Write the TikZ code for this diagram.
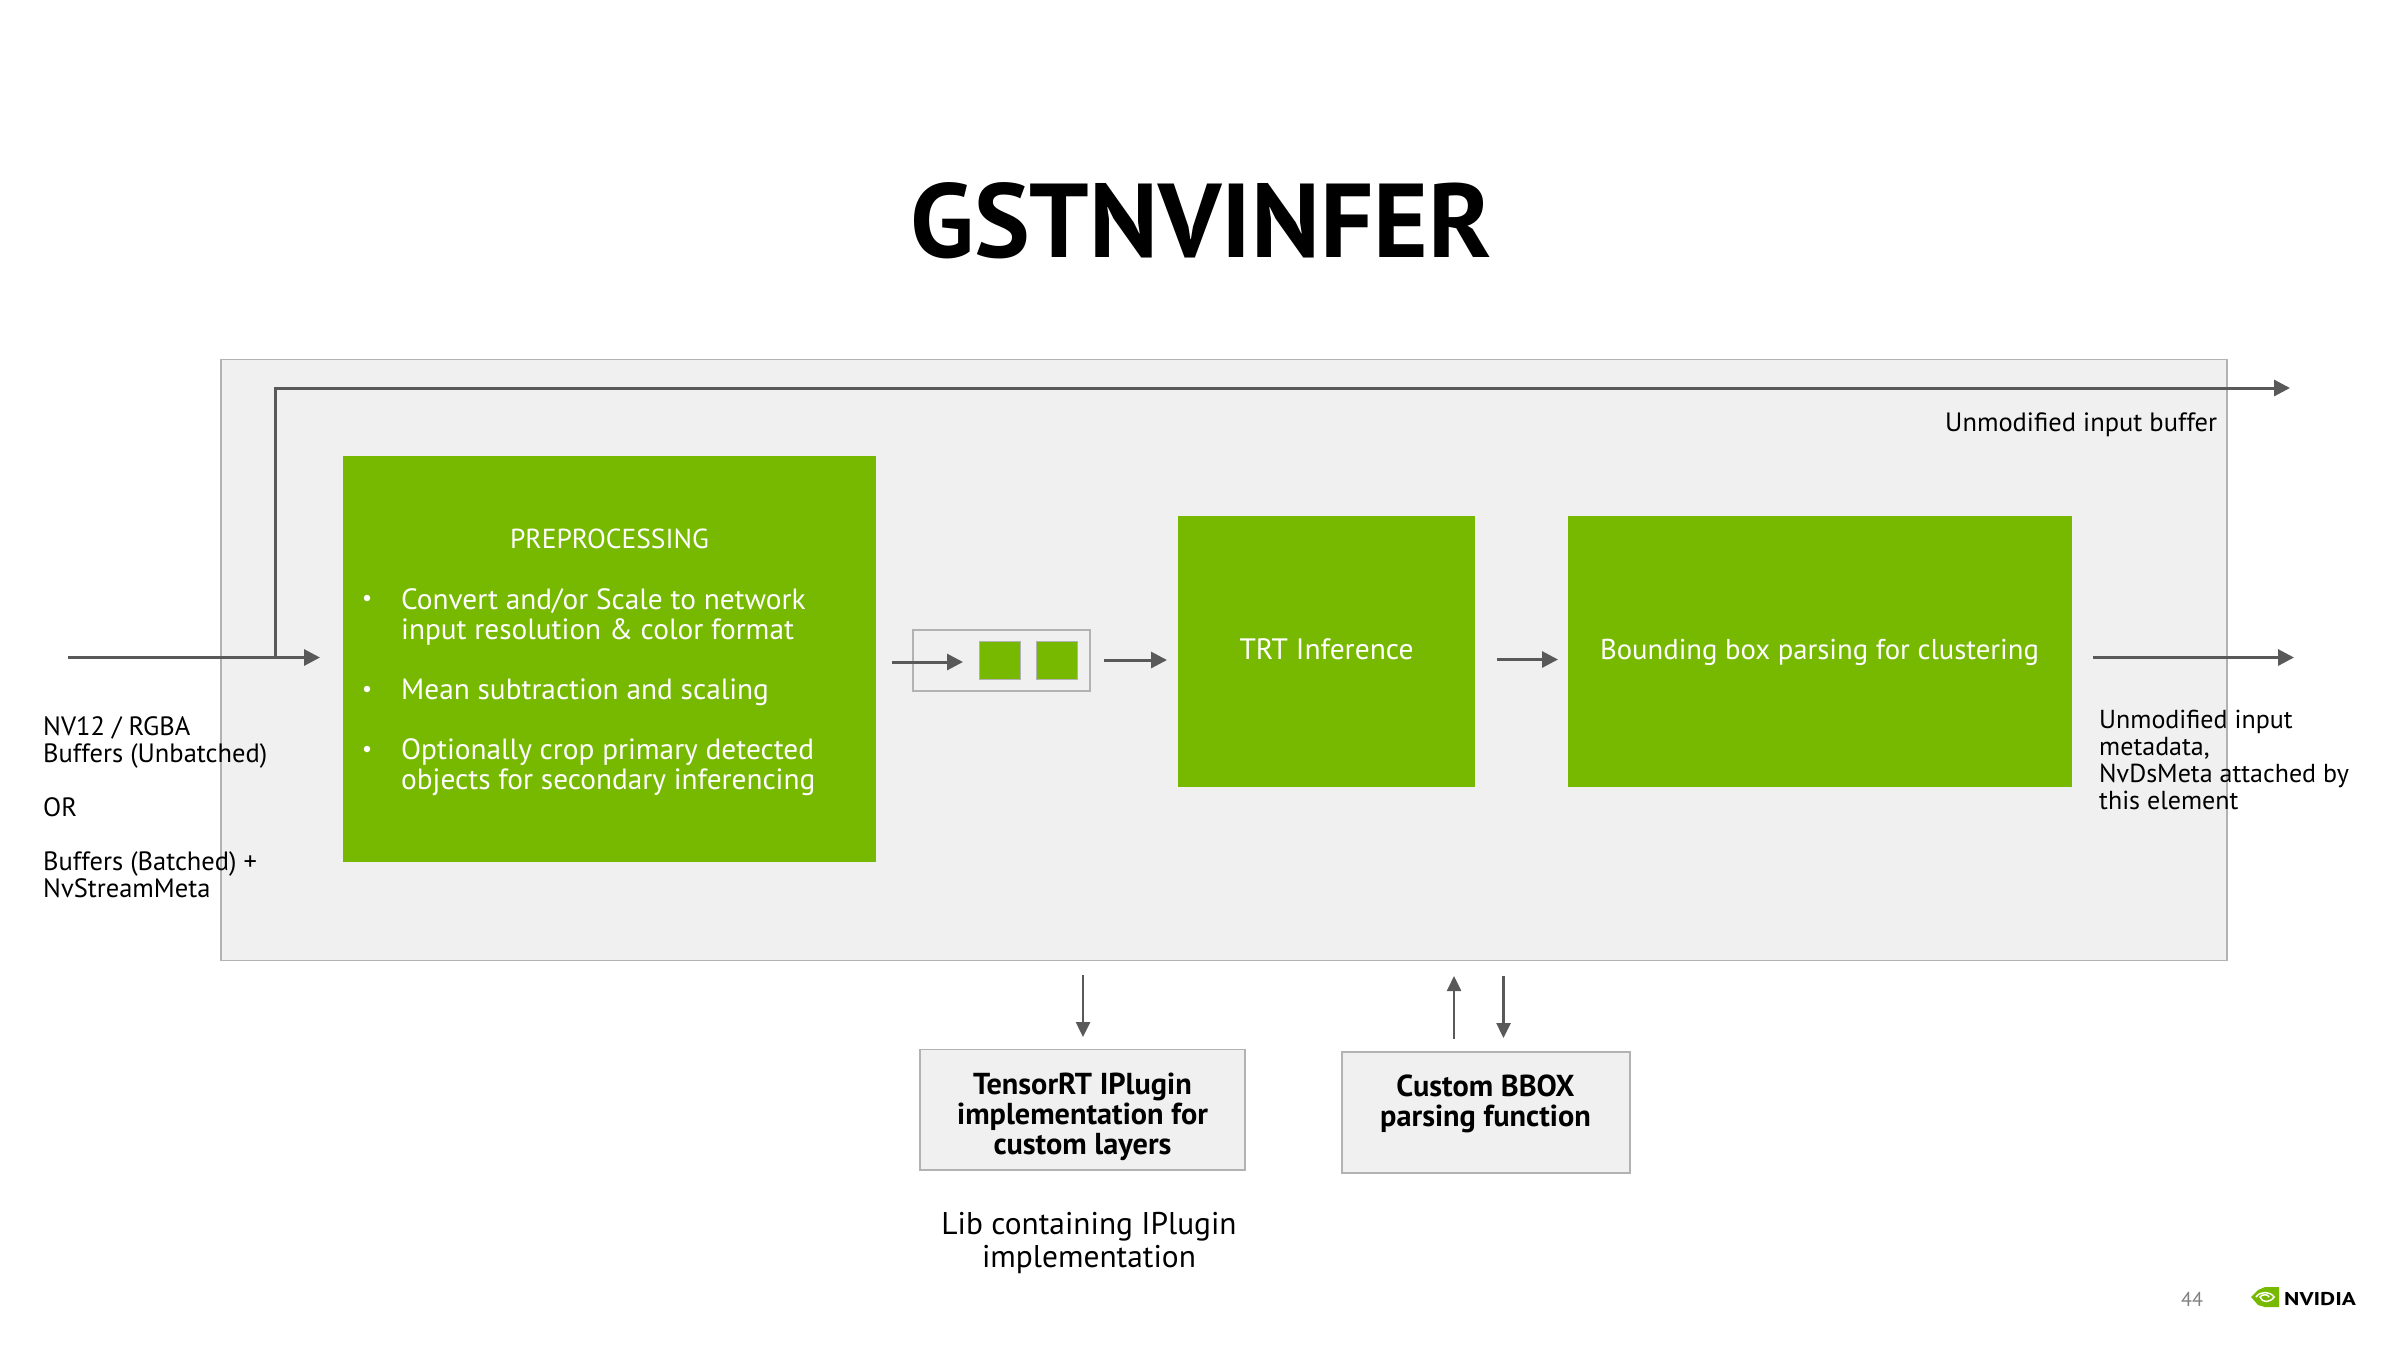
\documentclass[tikz,border=0pt]{standalone}
\usepackage{fontspec}
\setmainfont{PT Sans}
\usetikzlibrary{arrows.meta}
\definecolor{nvgreen}{HTML}{76B900}
\definecolor{panel}{HTML}{F0F0F0}
\definecolor{edge}{HTML}{B2B2B2}
\definecolor{arrowc}{HTML}{595959}
\newcommand{\fs}[2]{\fontsize{#1}{#2}\selectfont}
\tikzset{
  x=1pt,y=-1pt,
  box/.style={anchor=north west,inner sep=0pt,outer sep=0pt},
  greenbox/.style={box,fill=nvgreen},
  greybox/.style={box,fill=panel,draw=edge,line width=1.5pt},
  flow/.style={draw=arrowc,line width=3pt,-{Triangle[length=16pt,width=16pt]}},
  thin flow/.style={draw=arrowc,line width=2.5pt,-{Triangle[length=15pt,width=14pt]}},
  wtxt/.style={text=white,inner sep=0pt,anchor=base,font=\fs{29}{30}},
  btxt/.style={text=black,inner sep=0pt,anchor=base west,align=left,font=\fs{26.5}{27}},
  rtxt/.style={text=black,inner sep=0pt,anchor=base west,align=left,font=\fs{26}{27}},
  bul/.style={text=white,inner sep=0pt,anchor=base west,align=left,font=\fs{29.3}{30}},
  dot/.style={circle,fill=white,inner sep=0pt,minimum size=6.5pt},
}
\begin{document}
\begin{tikzpicture}
\useasboundingbox (0,0) rectangle (2400,1350);
\fill[white] (0,0) rectangle (2400,1350);
% title
\node[inner sep=0pt,anchor=base] (title) at (1201,257) {\fs{105}{110}\bfseries GSTNVINFER};
% panel
\node[greybox,minimum width=2006pt,minimum height=601pt] (panel) at (221,359.5) {};
% green boxes
\node[greenbox,minimum width=533pt,minimum height=406pt] (pre) at (343,456) {};
\node[greenbox,minimum width=297pt,minimum height=271pt] (trt) at (1178,516) {};
\node[greenbox,minimum width=504pt,minimum height=271pt] (bbox) at (1568,516) {};
% preprocessing text
\node[wtxt,font=\fs{27.5}{30}] (pretitle) at (609.5,548) {PREPROCESSING};
\node[dot] (d1) at (367,598) {};
\node[dot] (d2) at (367,689) {};
\node[dot] (d3) at (367,749) {};
\node[bul] (b1) at (401,639) {Convert and/or Scale to network\\input resolution \& color format};
\node[bul] (b2) at (401,699) {Mean subtraction and scaling};
\node[bul] (b3) at (401,789) {Optionally crop primary detected\\objects for secondary inferencing};
\node[wtxt,font=\fs{29.5}{30}] (trttxt) at (1326.5,659.5) {TRT Inference};
\node[wtxt,font=\fs{28.7}{30}] (bbtxt) at (1819.5,659.5) {Bounding box parsing for clustering};
% queue
\node[box,draw=edge,line width=1.5pt,minimum width=177pt,minimum height=61pt] (queue) at (913,630) {};
\node[greenbox,draw=edge,line width=1pt,minimum width=41pt,minimum height=38pt] (q1) at (979,641) {};
\node[greenbox,draw=edge,line width=1pt,minimum width=41pt,minimum height=38pt] (q2) at (1036,641) {};
% external labels
\node[btxt] (inlabel) at (43,897) {NV12 / RGBA\\Buffers (Unbatched)\\[27pt]OR\\[27pt]Buffers (Batched) +\\NvStreamMeta};
\node[rtxt,font=\fs{26.5}{27}] (outbuf) at (1945,431) {Unmodified input buffer};
\node[rtxt] (outmeta) at (2099,809.5) {Unmodified input\\metadata,\\NvDsMeta attached by\\this element};
% coordinates
\coordinate (inS) at (68,657.5);
\coordinate (inE) at (320,657.5);
\coordinate (brA) at (275.5,657.5);
\coordinate (brB) at (275.5,388);
\coordinate (brC) at (2290,388);
\coordinate (qS) at (892,662);
\coordinate (qE) at (963,662);
\coordinate (qoS) at (1104,660);
\coordinate (qoE) at (1167,660);
\coordinate (tS) at (1497,659.5);
\coordinate (tE) at (1558,659.5);
\coordinate (oS) at (2093,657.5);
\coordinate (oE) at (2294,657.5);
\coordinate (pS) at (1083,975);
\coordinate (pE) at (1083,1037);
\coordinate (uS) at (1454,1039);
\coordinate (uE) at (1454,976);
\coordinate (dS) at (1503.5,976);
\coordinate (dE) at (1503.5,1038);
% connectors
\draw[flow] (inS) -- (inE);
\draw[flow] (brA) -- (brB) -- (brC);
\draw[flow] (qS) -- (qE);
\draw[flow] (qoS) -- (qoE);
\draw[flow] (tS) -- (tE);
\draw[flow] (oS) -- (oE);
\draw[thin flow] (pS) -- (pE);
\draw[thin flow] (uS) -- (uE);
\draw[thin flow] (dS) -- (dE);
% lower boxes
\node[greybox,minimum width=325pt,minimum height=120.5pt] (plug) at (920,1049.5) {};
\node[greybox,minimum width=288pt,minimum height=121pt] (cust) at (1342,1052) {};
\node[inner sep=0pt,anchor=base,align=center,font=\fs{30.3}{30}\bfseries] (plugtxt) at (1082.5,1154) {TensorRT IPlugin\\implementation for\\custom layers};
\node[inner sep=0pt,anchor=base,align=center,font=\fs{30.3}{30}\bfseries] (custtxt) at (1485.5,1126.5) {Custom BBOX\\parsing function};
\node[inner sep=0pt,anchor=base,align=center,font=\fs{31.4}{33}] (libtxt) at (1089,1267) {Lib containing IPlugin\\implementation};
% footer
\node[inner sep=0pt,anchor=base,text=gray,font=\fs{20}{20}] (page) at (2192,1306) {44};
\fill[nvgreen] (2251,1297) -- (2258,1290) -- (2265,1287) -- (2279,1287) -- (2279,1307) -- (2265,1307) -- (2258,1305) -- cycle;
\draw[white,line width=1.5pt] (2256,1297) .. controls (2260,1291) and (2270,1291) .. (2274,1297) .. controls (2270,1303) and (2262,1303) .. (2260,1297) .. controls (2262,1294) and (2268,1294) .. (2269,1297);
\node[inner sep=0pt,anchor=base west,font=\fs{18.5}{20}\bfseries] (logo) at (2284,1305) {\scalebox{1.26}[1]{NVIDIA}};
\end{tikzpicture}
\end{document}
